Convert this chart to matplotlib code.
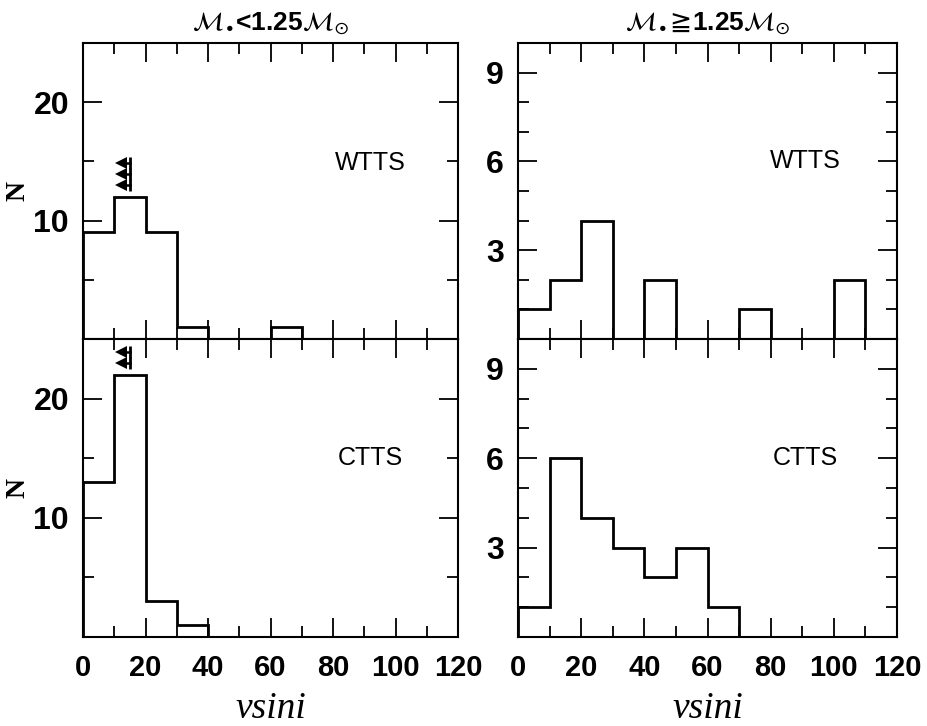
import matplotlib
matplotlib.use("Agg")
import matplotlib.pyplot as plt
from matplotlib.ticker import MultipleLocator
import numpy as np

# vsini bin edges (km/s)
edges = [0, 10, 20, 30, 40, 50, 60, 70, 80, 90, 100, 110, 120]

# counts per bin
wtts_low = [9, 12, 9, 1, 0, 0, 1, 0, 0, 0, 0, 0]
ctts_low = [13, 22, 3, 1, 0, 0, 0, 0, 0, 0, 0, 0]
wtts_high = [1, 2, 4, 0, 2, 0, 0, 1, 0, 0, 2, 0]
ctts_high = [1, 6, 4, 3, 2, 3, 1, 0, 0, 0, 0, 0]

# upper-limit markers (vsini, N)
limits_wtts_low_x = [13, 13, 13]
limits_wtts_low_y = [14.9, 13.9, 13.0]
limits_ctts_low_x = [13, 13]
limits_ctts_low_y = [23.9, 23.0]

titles = [r"$\mathcal{M}_{\bullet}$<1.25$\mathcal{M}_{\odot}$",
          r"$\mathcal{M}_{\bullet}\!\geqq\!$1.25$\mathcal{M}_{\odot}$"]

W, H = 927, 726
fig = plt.figure(figsize=(W / 100, H / 100), dpi=100)

def box(x0, y0, x1, y1):
    return [x0 / W, 1 - y1 / H, (x1 - x0) / W, (y1 - y0) / H]

ax_tl = fig.add_axes(box(83, 43, 458, 339))
ax_bl = fig.add_axes(box(83, 339, 458, 637))
ax_tr = fig.add_axes(box(518, 43, 897, 339))
ax_br = fig.add_axes(box(518, 339, 897, 637))

tick_font = dict(family=["Liberation Sans", "DejaVu Sans"], size=23, weight="bold")
xtick_font = dict(family=["Liberation Sans", "DejaVu Sans"], size=21, weight="bold")

def style(ax, ymax, major, minor, bottom):
    ax.set_xlim(0, 120)
    ax.xaxis.set_major_locator(MultipleLocator(20))
    ax.xaxis.set_minor_locator(MultipleLocator(10))
    ax.yaxis.set_major_locator(MultipleLocator(major))
    ax.yaxis.set_minor_locator(MultipleLocator(minor))
    ax.tick_params(which="both", direction="in", top=True, right=True,
                   width=1.3, color="black")
    ax.tick_params(which="major", length=14)
    ax.tick_params(which="minor", length=8)
    ax.tick_params(axis="y", pad=10)
    ax.tick_params(axis="x", pad=12)
    for s in ax.spines.values():
        s.set_linewidth(1.5)
    ticks = np.arange(major, ymax, major)
    ax.set_yticks(ticks)
    ax.set_yticklabels(["%d" % t for t in ticks], **tick_font)
    ax.set_ylim(0, ymax)
    if bottom:
        ax.set_xticks([0, 20, 40, 60, 80, 100, 120])
        ax.set_xticklabels(["0", "20", "40", "60", "80", "100", "120"], **xtick_font)
        ax.set_xlabel("vsini", family=["Liberation Serif", "DejaVu Serif"],
                      style="italic", size=27, labelpad=7)
    else:
        ax.set_xticklabels([])

# left column: low-mass stars
ax_tl.stairs(wtts_low, edges, color="black", linewidth=2)
ax_bl.stairs(ctts_low, edges, color="black", linewidth=2)
# right column: high-mass stars
ax_tr.stairs(wtts_high, edges, color="black", linewidth=2)
ax_br.stairs(ctts_high, edges, color="black", linewidth=2)

style(ax_tl, 25, 10, 5, False)
style(ax_bl, 25, 10, 5, True)
style(ax_tr, 10, 3, 1, False)
style(ax_br, 10, 3, 1, True)

# upper-limit arrows
for ax, xs, ys in ((ax_tl, limits_wtts_low_x, limits_wtts_low_y),
                   (ax_bl, limits_ctts_low_x, limits_ctts_low_y)):
    xs = np.asarray(xs, float)
    ys = np.asarray(ys, float)
    ax.plot(xs - 0.8, ys, linestyle="none", marker="<", markersize=8,
            color="black", markeredgewidth=0)
    ax.plot(xs + 2.0, ys, linestyle="none", marker="|", markersize=8,
            color="black", markeredgewidth=2)
    for x, y in zip(xs, ys):
        ax.plot([x - 0.8, x + 2.0], [y, y], color="black", linewidth=1.8)

label_font = dict(family=["Liberation Sans", "DejaVu Sans"], size=18)
ax_tl.text(92, 14.9, "WTTS", ha="center", va="center", **label_font)
ax_bl.text(92, 15.0, "CTTS", ha="center", va="center", **label_font)
ax_tr.text(91, 6.0, "WTTS", ha="center", va="center", **label_font)
ax_br.text(91, 6.0, "CTTS", ha="center", va="center", **label_font)

ylab_font = dict(family=["Liberation Serif", "DejaVu Serif"], size=20, weight="bold")
ax_tl.set_ylabel("N", labelpad=2, **ylab_font)
ax_bl.set_ylabel("N", labelpad=2, **ylab_font)

title_font = dict(family=["Liberation Sans", "DejaVu Sans"], size=19, weight="bold")
ax_tl.set_title(titles[0], pad=9, **title_font)
ax_tr.set_title(titles[1], pad=9, **title_font)

fig.savefig("out.png", dpi=100)
